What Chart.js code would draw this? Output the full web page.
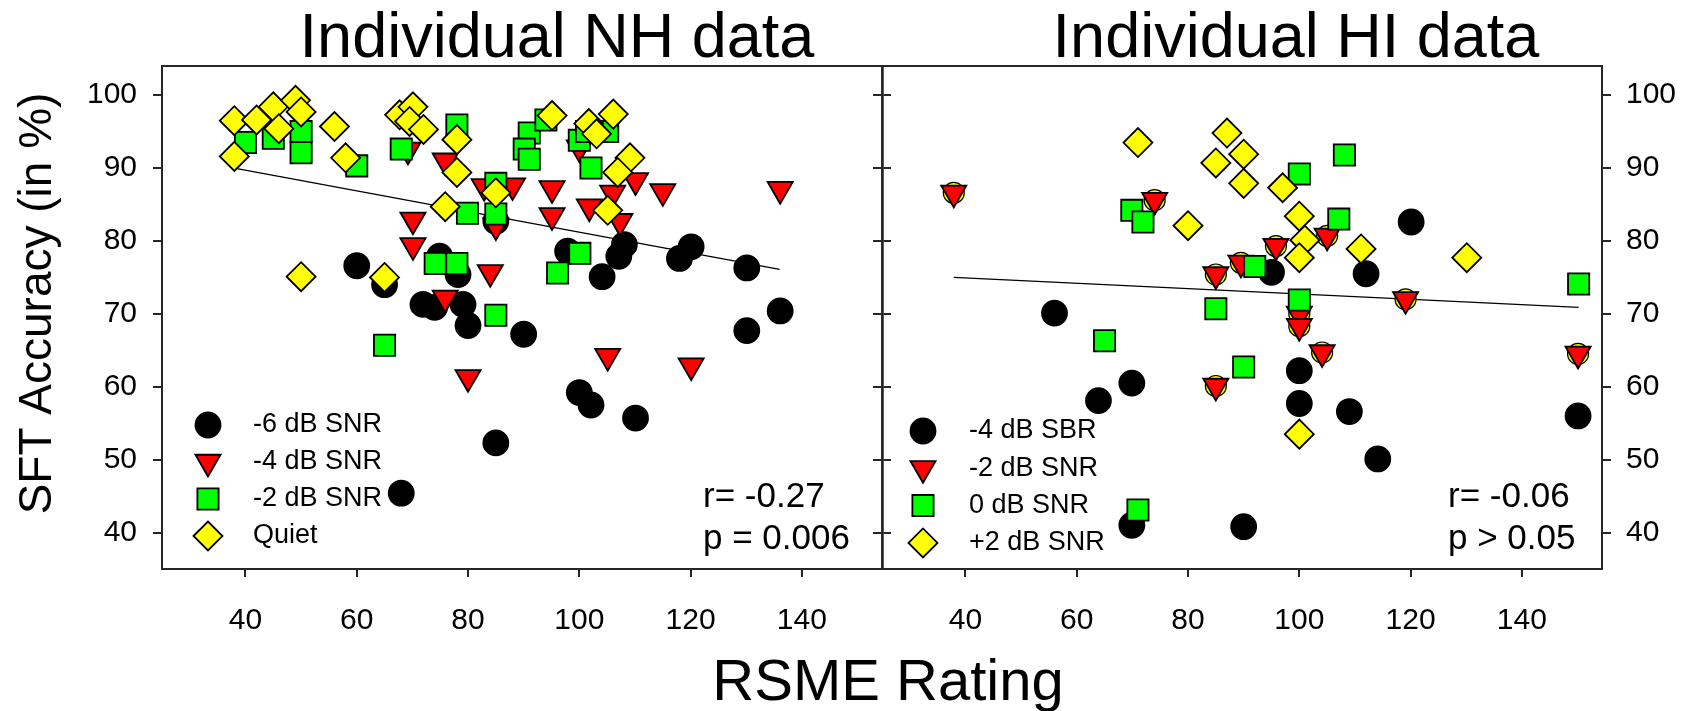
<!DOCTYPE html>
<html>
<head>
<meta charset="utf-8">
<title>Individual NH / HI data</title>
<script src="https://cdn.jsdelivr.net/npm/chart.js@4.4.1/dist/chart.umd.min.js"></script>
<style>
    html, body { margin: 0; padding: 0; background: #fff; }
    #wrap { position: relative; width: 1692px; height: 711px; }
    #wrap canvas { position: absolute; left: 0; top: 0; }
</style>
</head>
<body>
<div id="wrap">
    <canvas id="nh-chart" width="1692" height="711"></canvas>
    <canvas id="hi-chart" width="1692" height="711"></canvas>
</div>
<script>
// axis ranges and ticks (shared by both panels)
const xMin = 25, xMax = 154.4;
const yMin = 35, yMax = 104;
const xTickValues = [40, 60, 80, 100, 120, 140];
const yTickValues = [40, 50, 60, 70, 80, 90, 100];

// NH panel
const nhSnr6X = [60, 65, 74.9, 78.2, 71.9, 74, 79.1, 80, 85, 90, 85, 68, 97.9, 100, 102.1, 104.1, 107.1, 108.1, 110.1, 118, 120.1, 130.1, 130.1, 136.1];
const nhSnr6Y = [76.6, 74.0, 77.9, 75.4, 71.3, 70.9, 71.3, 68.4, 82.7, 67.2, 52.3, 45.4, 78.6, 59.2, 57.5, 75.1, 77.9, 79.5, 55.7, 77.6, 79.2, 76.3, 67.7, 70.4];
const nhSnr4X = [70.1, 70.1, 75.9, 69.2, 82.9, 88, 85, 84, 75.9, 95.1, 95.1, 101.8, 106, 110.1, 115, 107.3, 136.1, 100, 80, 105.1, 120.1];
const nhSnr4Y = [82.9, 79.4, 91.0, 92.5, 87.5, 87.6, 82.1, 75.7, 72.2, 87.2, 83.5, 84.7, 86.6, 88.3, 86.8, 82.7, 87.1, 92.8, 61.3, 64.2, 62.9];
const nhSnr2X = [40, 45, 50, 50, 60, 68, 78, 79.9, 85, 85, 74.1, 78, 91, 90.1, 91, 94, 100, 101.3, 105.1, 102.1, 100.1, 96.1, 65, 85];
const nhSnr2Y = [93.5, 94.1, 95.0, 92.1, 90.3, 92.6, 95.9, 83.8, 87.9, 83.7, 76.9, 76.9, 94.8, 92.6, 91.2, 96.6, 93.8, 95.0, 95.0, 90.0, 78.3, 75.6, 65.7, 69.8];
const nhQuietX = [38, 38, 42, 45, 46, 49, 50, 56, 58, 50, 65, 67.7, 70.1, 69.5, 72, 78, 78, 75.9, 85, 95.1, 106.1, 101.7, 103.1, 109.1, 106.9, 105.1];
const nhQuietY = [96.5, 91.6, 96.6, 98.4, 95.4, 99.3, 97.7, 95.7, 91.4, 75.1, 75.0, 97.3, 98.4, 96.4, 95.3, 93.9, 89.4, 84.7, 86.6, 97.2, 97.4, 96.1, 94.7, 91.4, 89.4, 84.2];
const nhFitX = [38, 136];
const nhFitY = [90.0, 76.1];

// HI panel
const hiSbrX = [56, 63.9, 69.9, 69.9, 90, 95, 100, 100, 109, 114.1, 112, 120.1, 150.1];
const hiSbrY = [70.1, 58.1, 60.5, 41.0, 40.8, 75.7, 62.2, 57.7, 56.6, 50.1, 75.5, 82.6, 56.0];
const hiSnrM2X = [37.9, 74, 85, 89.5, 95.8, 105, 85, 100, 100, 104.1, 119.1, 150.1];
const hiSnrM2Y = [86.6, 85.6, 75.4, 77.0, 79.3, 80.7, 60.1, 70.0, 68.3, 64.7, 72.0, 64.5];
const hiSnr0X = [69.9, 71.9, 92, 85, 108.1, 100, 107.1, 150.2, 100, 65, 90, 71];
const hiSnr0Y = [84.2, 82.6, 76.5, 70.7, 91.8, 89.2, 83.0, 74.1, 71.9, 66.3, 62.7, 43.1];
const hiSnrP2X = [71, 87, 85, 90, 90, 80, 97, 100, 101, 100, 111.1, 130.1, 100];
const hiSnrP2Y = [93.5, 94.8, 90.7, 91.9, 87.9, 82.1, 87.3, 83.4, 80.1, 77.7, 78.9, 77.7, 53.5];
const hiFitX = [37.9, 150.2];
const hiFitY = [75.0, 70.9];

const FONT = "'Liberation Sans', Arial, sans-serif";
const frameColor = '#262626';

const circleStyle = { shape: 'circle', radius: 12.5, rotation: 0, fill: '#000000' };
const triStyle = { shape: 'triangle', radius: 14.5, rotation: 180, fill: '#ff0000' };
const squareStyle = { shape: 'rect', radius: 15, rotation: 0, fill: '#00ff00' };
const diamondStyle = { shape: 'rectRot', radius: 14.5, rotation: 0, fill: '#ffff00' };
const ringStyle = { shape: 'circle', radius: 10.5, rotation: 0, fill: '#ffff00' };

function toPoints(xs, ys) {
    return xs.map((x, i) => ({ x: x, y: ys[i] }));
}

function scatterSet(label, xs, ys, style, order, inLegend) {
    return {
        type: 'scatter',
        label: label,
        data: toPoints(xs, ys),
        pointStyle: style.shape,
        pointRadius: style.radius,
        pointRotation: style.rotation,
        backgroundColor: style.fill,
        borderColor: '#000',
        borderWidth: style === ringStyle ? 1.2 : 1.8,
        order: order,
        inLegend: inLegend
    };
}

function fitSet(xs, ys) {
    return {
        type: 'line',
        data: toPoints(xs, ys),
        showLine: true,
        borderColor: '#000',
        borderWidth: 1.3,
        pointRadius: 0,
        fill: false,
        order: 10,
        inLegend: false
    };
}

function setTicks(values) {
    return scale => { scale.ticks = values.map(v => ({ value: v })); };
}

function makeScales(labelsOnLeft) {
    const tickFont = { family: FONT, size: 30 };
    return {
        x: {
            type: 'linear', position: 'bottom', min: xMin, max: xMax,
            afterBuildTicks: setTicks(xTickValues),
            afterFit: s => { s.height = 142; },
            ticks: { font: tickFont, color: '#000', padding: 26, maxRotation: 0, autoSkip: false },
            grid: { drawOnChartArea: false, tickLength: 8, color: frameColor, lineWidth: 2 },
            border: { color: frameColor, width: 2 }
        },
        xTop: {
            type: 'linear', position: 'top', min: xMin, max: xMax,
            afterBuildTicks: setTicks(xTickValues),
            afterFit: s => { s.height = 66; },
            ticks: { display: false },
            grid: { drawOnChartArea: false, drawTicks: false },
            border: { color: frameColor, width: 2 }
        },
        y: {
            type: 'linear', position: 'left', min: yMin, max: yMax,
            afterBuildTicks: setTicks(yTickValues),
            afterFit: s => { s.width = labelsOnLeft ? 162 : 882; },
            ticks: { display: labelsOnLeft, font: tickFont, color: '#000', padding: 16 },
            grid: { drawOnChartArea: false, tickLength: 9, color: frameColor, lineWidth: 2 },
            border: { color: frameColor, width: labelsOnLeft ? 2 : 2.5 }
        },
        yRight: {
            type: 'linear', position: 'right', min: yMin, max: yMax,
            afterBuildTicks: setTicks(yTickValues),
            afterFit: s => { s.width = labelsOnLeft ? 810 : 90; },
            ticks: { display: !labelsOnLeft, font: tickFont, color: '#000', padding: 15 },
            grid: { drawOnChartArea: false, tickLength: 9, color: frameColor, lineWidth: 2 },
            border: { color: frameColor, width: labelsOnLeft ? 2.5 : 2 }
        }
    };
}

function drawMarker(ctx, ds, x, y) {
    ctx.fillStyle = ds.backgroundColor;
    ctx.strokeStyle = ds.borderColor;
    ctx.lineWidth = ds.borderWidth;
    Chart.helpers.drawPoint(ctx, {
        pointStyle: ds.pointStyle,
        rotation: ds.pointRotation,
        radius: ds.pointRadius,
        borderWidth: ds.borderWidth
    }, x, y);
}

// titles, r/p text, legend and shared axis titles
const panelDecor = {
    id: 'panelDecor',
    afterDraw(chart, args, opts) {
        const ctx = chart.ctx;
        const area = chart.chartArea;
        ctx.save();
        ctx.fillStyle = '#000';

        ctx.font = `63px ${FONT}`;
        ctx.textAlign = 'center';
        ctx.textBaseline = 'alphabetic';
        ctx.fillText(opts.title, area.left + opts.titleDx, area.top - 9);

        ctx.font = `35px ${FONT}`;
        ctx.textAlign = 'left';
        opts.stats.forEach((line, i) => {
            ctx.fillText(line, area.right - opts.statsDx, area.bottom - 62 + i * 42);
        });

        const items = chart.data.datasets.filter(ds => ds.inLegend);
        items.forEach((ds, i) => {
            const rowY = area.bottom - opts.legendBottom + i * opts.legendStep;
            drawMarker(ctx, ds, area.left + opts.legendMarkX, rowY);
            ctx.fillStyle = '#000';
            ctx.font = `27px ${FONT}`;
            ctx.textAlign = 'left';
            ctx.textBaseline = 'middle';
            ctx.fillText(ds.label, area.left + opts.legendTextX, rowY);
        });

        if (opts.axisTitles) {
            ctx.fillStyle = '#000';
            ctx.font = `58px ${FONT}`;
            ctx.textAlign = 'center';
            ctx.textBaseline = 'alphabetic';
            ctx.fillText('RSME Rating', area.right + 6, 700);

            ctx.translate(38, (area.top + area.bottom) / 2 - 14);
            ctx.rotate(-Math.PI / 2);
            ctx.font = `46px ${FONT}`;
            ctx.textBaseline = 'middle';
            ctx.fillText('SFT Accuracy (in %)', 0, 0);
        }
        ctx.restore();
    }
};

function makePanel(canvasId, datasets, labelsOnLeft, decor) {
    const ctx = document.getElementById(canvasId).getContext('2d');
    return new Chart(ctx, {
        type: 'scatter',
        data: { datasets: datasets },
        options: {
            responsive: false,
            animation: false,
            events: [],
            devicePixelRatio: 1,
            layout: { padding: 0 },
            scales: makeScales(labelsOnLeft),
            plugins: {
                legend: { display: false },
                tooltip: { enabled: false },
                panelDecor: decor
            }
        },
        plugins: [panelDecor]
    });
}

makePanel('nh-chart', [
    scatterSet('-6 dB SNR', nhSnr6X, nhSnr6Y, circleStyle, 4, true),
    scatterSet('-4 dB SNR', nhSnr4X, nhSnr4Y, triStyle, 3, true),
    scatterSet('-2 dB SNR', nhSnr2X, nhSnr2Y, squareStyle, 2, true),
    scatterSet('Quiet', nhQuietX, nhQuietY, diamondStyle, 1, true),
    fitSet(nhFitX, nhFitY)
], true, {
    title: 'Individual NH data', titleDx: 395,
    stats: ['r= -0.27', 'p = 0.006'], statsDx: 179,
    legendBottom: 144, legendStep: 37, legendMarkX: 46, legendTextX: 91,
    axisTitles: true
});

makePanel('hi-chart', [
    scatterSet('-4 dB SBR', hiSbrX, hiSbrY, circleStyle, 5, true),
    scatterSet('-2 dB SNR', hiSnrM2X, hiSnrM2Y, triStyle, 3, true),
    scatterSet('0 dB SNR', hiSnr0X, hiSnr0Y, squareStyle, 2, true),
    scatterSet('+2 dB SNR', hiSnrP2X, hiSnrP2Y, diamondStyle, 1, true),
    // yellow circles peeking out behind the -2 dB SNR triangles
    scatterSet('', hiSnrM2X, hiSnrM2Y, ringStyle, 4, false),
    fitSet(hiFitX, hiFitY)
], false, {
    title: 'Individual HI data', titleDx: 414,
    stats: ['r= -0.06', 'p > 0.05'], statsDx: 154,
    legendBottom: 138, legendStep: 37.3, legendMarkX: 41, legendTextX: 87,
    axisTitles: false
});
</script>
</body>
</html>
